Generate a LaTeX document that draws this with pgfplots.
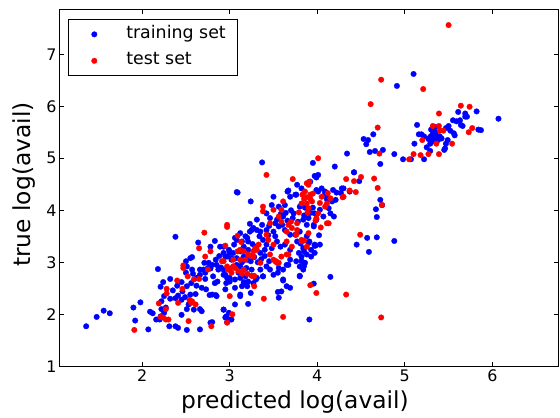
\documentclass[border=0pt]{standalone}
\usepackage{fontspec}
\setmainfont{DejaVu Sans}
\usepackage{pgfplots}
\pgfplotsset{compat=1.18}
\begin{document}
\begin{tikzpicture}
\useasboundingbox (-60bp,-51bp) rectangle (501bp,367bp);
\begin{axis}[
 at={(0,0)}, anchor=south west,
 scale only axis, width=499bp, height=357bp,
 xmin=1.06, xmax=6.75, ymin=1, ymax=7.85,
 xtick={2,3,4,5,6}, ytick={1,2,3,4,5,6,7},
 tick align=inside, major tick length=4bp,
 tick style={black, line width=0.8bp},
 axis line style={black, line width=1bp},
 every tick label/.append style={font=\fontsize{16}{16}\selectfont},
 /pgf/number format/assume math mode=true,
 xlabel={predicted log(avail)}, ylabel={true log(avail)},
 every axis label/.append style={font=\fontsize{23.5}{23.5}\selectfont},
 xlabel style={at={(axis description cs:0.472,-0.118)}, anchor=base},
 ylabel style={at={(axis description cs:-0.060,0.51)}, anchor=base},
 legend style={at={(axis description cs:0.016,0.975)}, anchor=north west,
   draw=black, line width=1bp, inner xsep=12bp, inner ysep=7bp,
   font=\fontsize{17.5}{17.5}\selectfont, row sep=11bp,
   nodes={inner sep=0pt, text height=12bp, text depth=3.5bp, anchor=base west}},
 legend cell align=left,
 legend image code/.code={%
   \pgfpathmoveto{\pgfqpoint{-14bp}{4bp}}\pgfpathmoveto{\pgfqpoint{32bp}{4bp}}\pgfusepath{discard}%
   \draw[#1] plot coordinates {(0bp,4bp)};},
]
\addplot[only marks, mark=*, mark size=2.8bp, color=blue, fill=blue, mark options={line width=0.3bp}] coordinates {
(1.36,1.77) (1.48,1.95) (1.56,2.07) (1.63,2.02) (1.90,2.13) (1.98,2.23) (1.92,1.88) (2.07,1.71) (2.09,2.05) (2.12,2.02)
(2.16,1.90) (2.20,1.90) (2.25,2.03) (2.27,2.13) (2.22,2.25) (2.25,2.35) (2.21,2.53) (2.24,2.62) (2.31,1.77) (2.21,1.96)
(2.22,2.10) (2.32,2.68) (2.35,2.46) (2.38,2.31) (2.45,1.99) (2.18,2.87) (2.32,2.30) (2.51,2.10) (2.59,2.09) (2.66,2.10)
(2.53,2.19) (2.45,2.28) (2.49,2.33) (2.41,2.36) (2.55,2.38) (2.61,2.39) (2.46,2.44) (2.51,2.54) (2.56,2.60) (2.62,2.55)
(2.68,2.51) (2.73,2.48) (2.80,2.38) (2.85,2.35) (2.93,2.09) (3.00,1.90) (2.96,1.96) (3.06,2.19) (3.12,2.35) (3.20,2.54)
(3.21,2.20) (2.78,1.84) (2.66,1.71) (2.38,1.77) (2.41,1.74) (2.51,1.70)
(2.50,3.02) (2.55,3.08) (2.57,3.10) (2.71,2.99) (2.76,2.99) (2.66,2.86) (2.70,2.86) (2.66,2.76) (2.72,2.80) (2.75,2.89)
(2.80,2.95) (2.85,2.95) (2.87,2.86) (2.81,2.73) (2.86,2.63) (2.83,2.60) (2.93,2.76) (2.97,2.70) (2.96,2.60) (3.00,2.63)
(3.06,2.67) (3.12,2.70) (3.16,2.60) (3.21,2.63) (3.00,3.20) (3.04,3.18) (3.12,3.21) (3.16,3.11) (3.08,3.08) (3.20,3.05)
(3.02,3.05) (2.97,3.11) (2.93,3.18) (2.51,2.92) (2.50,2.80) (2.57,2.86) (2.64,3.38) (2.78,3.30) (2.83,3.41) (2.89,3.30)
(3.08,3.43) (3.05,3.34) (3.20,3.47) (3.16,3.30) (3.21,3.24) (2.38,3.49)
(3.09,4.34) (3.24,4.17) (3.50,4.26) (3.48,4.10) (3.56,4.07) (3.63,4.10) (3.67,4.38) (3.76,4.30) (3.80,4.07) (3.73,3.94)
(3.42,3.94) (3.46,3.85) (3.54,3.82) (3.61,3.88) (3.31,3.82) (3.37,3.72) (3.27,3.66) (3.23,3.59) (3.35,3.59) (3.42,3.62)
(3.50,3.59) (3.56,3.69) (3.63,3.62) (3.69,3.53) (3.75,3.53) (3.80,3.59) (3.12,3.56) (3.18,3.50) (3.21,3.40) (3.14,3.40)
(3.06,3.47) (3.38,3.43) (3.42,3.34) (3.48,3.27) (3.40,3.24) (3.35,3.18) (3.54,3.40) (3.58,3.30) (3.63,3.34) (3.69,3.24)
(3.77,3.40) (3.84,3.27) (3.79,3.18) (3.90,3.37) (3.93,3.24) (3.88,3.15) (3.97,3.18) (4.03,3.34)
(2.93,3.30) (2.99,3.24) (3.00,3.18) (2.95,3.11) (3.02,3.08) (3.04,2.92) (2.93,2.86) (2.95,2.76) (3.00,2.70) (3.10,2.80)
(3.12,2.92) (3.18,2.73) (3.19,2.89) (3.25,2.86) (3.35,2.86) (3.38,2.73) (3.30,2.67) (3.42,2.92) (3.46,2.86) (3.50,2.76)
(3.56,2.89) (3.61,2.86) (3.65,2.95) (3.69,3.05) (3.76,3.02) (3.80,2.92) (3.84,2.86) (3.86,2.99)
(3.61,2.67) (3.65,2.54) (3.80,2.73) (3.59,2.44) (3.56,2.32) (2.95,2.48) (3.06,2.51) (3.12,2.38)
(3.95,4.91) (4.20,4.84) (4.42,4.73) (4.48,4.56) (3.97,4.66) (4.01,4.68) (3.99,4.63) (3.77,4.49) (3.82,4.42) (3.92,4.55)
(3.66,4.36) (3.69,4.26) (3.75,4.30) (3.99,4.39) (4.05,4.42) (4.09,4.36) (4.11,4.26) (4.17,4.17) (4.13,4.04) (4.15,3.94)
(4.19,3.88) (4.22,4.34) (4.28,4.42) (4.18,4.39) (4.30,4.42) (4.27,4.33) (4.37,4.36) (4.21,4.20)
(4.01,4.36) (4.09,4.33) (4.11,4.21) (4.03,4.01) (3.97,3.94) (4.07,3.88) (3.99,3.82) (3.96,3.72) (3.88,3.72) (3.84,3.82)
(3.96,3.69) (4.02,3.52) (3.97,3.34) (3.88,3.50) (3.81,3.36)
(4.57,3.47) (4.68,3.48) (4.45,3.34) (4.88,3.41) (4.59,3.20) (4.15,2.72) (3.96,2.59) (3.91,1.90) (3.93,3.11) (3.82,3.02)
(3.85,2.93) (3.80,2.74) (3.97,3.32) (3.91,3.40) (3.37,4.92) (3.08,4.35)
(4.72,4.20) (4.74,4.10) (4.67,4.02) (4.68,3.87)
(3.55,2.43) (2.99,2.03) (2.95,1.94) (3.02,1.90) (2.97,1.85) (2.80,1.85) (2.93,2.09) (2.68,2.06) (2.77,2.37) (2.84,2.37)
(3.24,2.41) (3.14,2.54) (3.16,2.62) (3.27,2.60) (3.31,2.70) (3.38,2.73) (3.69,2.51) (3.84,3.00) (3.82,3.11) (3.85,3.21)
(3.98,3.32) (3.55,2.80) (3.61,2.65) (3.67,2.95) (3.23,3.74) (3.25,3.62) (3.31,3.62)
(3.45,3.70) (3.52,3.75) (3.60,3.72) (3.66,3.80) (3.72,3.85) (3.78,3.78) (3.85,3.90) (3.90,3.85) (3.92,3.95) (3.86,4.05)
(3.95,4.05) (3.70,4.00) (3.64,3.95) (3.58,3.92) (3.44,3.52) (3.52,3.50) (3.30,3.30) (3.26,3.35) (3.34,3.50)
(2.84,3.05) (2.90,2.90) (2.78,2.88) (2.62,2.70) (2.58,2.78) (2.45,2.62) (2.40,2.55) (2.88,3.12) (2.72,2.68) (3.08,2.95)
(3.14,3.00) (3.24,3.02) (3.28,3.10) (3.32,3.00) (3.36,3.06) (3.45,3.02) (3.40,3.12)
(5.10,6.62) (4.91,6.39) (6.07,5.76) (5.82,5.90) (5.61,5.89) (5.69,5.86) (5.69,5.80) (5.71,5.80) (5.55,5.73) (5.59,5.71)
(5.63,5.73) (5.64,5.64) (5.14,5.64) (5.47,5.58) (5.84,5.55) (5.87,5.54) (5.52,5.53) (5.56,5.48) (5.57,5.44) (5.33,5.51)
(5.31,5.44) (5.29,5.41) (5.34,5.40) (5.36,5.44) (5.38,5.35) (5.34,5.35) (5.31,5.32) (5.29,5.28) (5.16,5.46) (5.19,5.46)
(5.11,5.28) (5.49,5.35) (5.47,5.28) (5.46,5.19) (5.45,5.16) (5.25,5.21) (5.29,5.14) (4.98,4.98) (5.07,4.98) (5.22,4.98)
(4.88,5.08) (4.72,4.89) (4.75,5.16) (4.66,5.14) (4.60,5.12) (4.53,5.37) (4.58,5.35) (4.56,5.27) (4.64,5.46) (4.34,5.09)
(4.42,4.73) (5.32,5.47) (5.35,5.50) (5.27,5.37) (5.40,5.42) (5.42,5.38) (5.30,5.55) (5.22,5.42) (5.50,5.62) (5.66,5.62)
(5.35,5.60)
};
\addlegendentry{training set}
\addplot[only marks, mark=*, mark size=2.8bp, color=red, fill=red, mark options={line width=0.3bp}] coordinates {
(1.91,1.70) (2.21,1.95) (2.27,1.90) (2.30,1.90) (2.27,2.10) (2.19,2.21) (2.28,2.49) (2.28,2.40) (2.24,1.94)
(2.71,3.57) (2.97,3.72) (2.97,3.68) (2.65,3.27) (2.95,3.32) (3.09,3.51) (3.13,3.39) (3.12,3.05) (3.18,3.05) (3.21,3.15)
(2.91,3.02) (3.04,2.92) (3.10,2.83) (3.14,2.78) (3.20,2.78) (2.98,2.86) (3.02,2.80) (2.72,3.11) (2.78,3.21) (2.75,2.86)
(2.47,2.94) (2.47,2.89) (2.52,2.73) (2.59,2.67) (2.65,2.68) (2.46,2.49) (2.54,2.28) (2.57,2.25) (2.61,2.19) (2.56,2.22)
(2.40,2.65) (2.41,2.22) (2.53,1.87) (2.79,1.77) (2.97,1.84) (3.03,2.00) (3.00,2.35)
(4.73,6.51) (5.21,6.33) (4.61,6.04) (5.64,6.01) (5.74,5.99) (5.39,5.86) (5.32,5.62) (5.39,5.62) (5.77,5.58) (5.73,5.50)
(5.40,5.53) (5.44,5.53) (5.20,5.35) (5.36,5.28) (5.54,5.28) (5.10,5.08) (5.18,5.06) (5.27,5.08) (5.39,5.08) (5.05,4.98)
(4.71,5.09) (4.69,5.59) (4.50,4.64) (4.33,4.60) (4.65,4.61) (5.50,7.56) (4.42,4.56)
(4.01,5.00) (3.42,4.68) (3.72,4.60) (3.91,4.55) (3.88,4.52) (4.69,4.43) (4.37,4.38) (4.44,4.35) (4.29,4.25) (4.12,4.33)
(4.15,4.23) (4.03,4.14) (4.09,4.07) (3.99,3.85) (4.04,3.67) (4.11,3.75) (4.49,3.53) (4.74,4.10) (4.30,4.26)
(3.90,4.49) (3.86,4.36) (3.83,4.30) (3.92,4.30) (3.88,4.13) (3.82,4.13) (3.94,4.17) (3.90,4.04) (4.11,4.13) (4.05,4.26)
(3.85,4.22) (3.92,4.22) (3.87,4.25) (3.95,4.32)
(4.13,3.75) (4.01,3.94) (3.89,3.96) (3.79,3.96) (3.77,3.75) (3.90,3.56) (3.82,3.43) (3.76,3.53) (3.65,3.59) (3.65,3.40)
(3.71,3.30) (3.61,4.17) (3.59,4.01) (3.50,4.01) (3.38,4.07) (3.38,3.98) (3.56,3.88) (3.46,3.75) (3.59,3.78) (3.70,3.78)
(3.67,3.72) (3.71,3.66) (3.77,3.62)
(3.29,3.27) (3.33,3.34) (3.27,3.21) (3.31,3.24) (3.12,3.24) (3.09,3.21) (3.16,3.21) (3.23,3.13) (3.27,3.11)
(3.46,3.15) (3.50,3.05) (3.54,2.99) (3.52,3.02) (3.65,3.15) (3.59,3.11) (3.82,3.40) (3.88,3.30)
(2.97,2.92) (3.00,2.86) (3.06,2.89) (3.04,3.05) (2.93,3.02) (3.16,2.86) (3.27,2.73) (3.35,2.99)
(3.42,3.53) (3.44,3.43) (3.50,3.34)
(3.92,2.56) (3.99,2.41) (4.33,2.38) (4.73,1.94) (3.61,1.95) (3.39,2.30) (3.25,2.74) (3.28,2.74) (3.28,2.54)
(3.56,2.99) (3.53,3.02) (3.67,3.15) (3.85,3.42) (3.98,3.80)
};
\addlegendentry{test set}
\end{axis}
\end{tikzpicture}
\end{document}
